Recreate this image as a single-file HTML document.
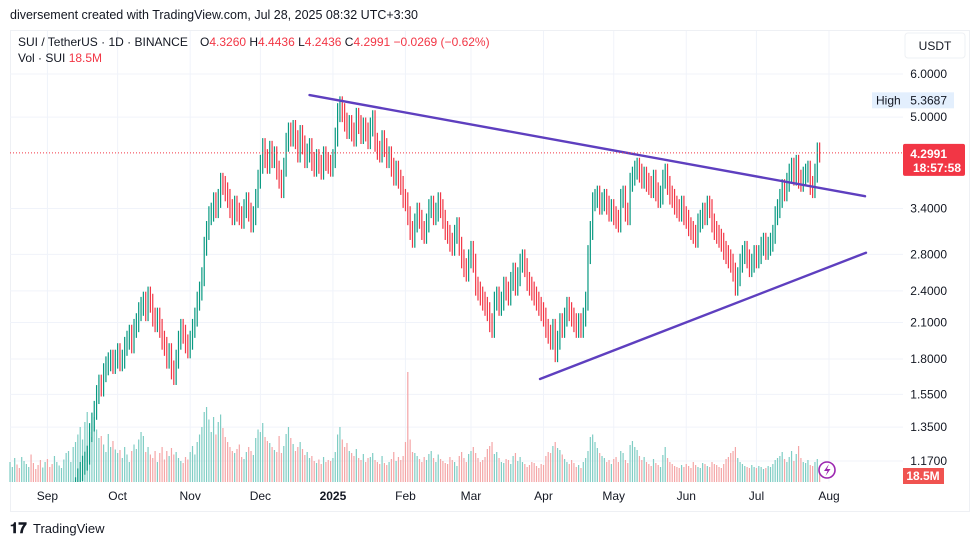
<!DOCTYPE html>
<html><head><meta charset="utf-8">
<style>
body{margin:0;background:#fff;font-family:"Liberation Sans",sans-serif;}
#wrap{position:relative;width:980px;height:546px;overflow:hidden;background:#fff}
svg text{font-family:"Liberation Sans",sans-serif}
</style></head>
<body>
<div id="wrap">
<svg id="chart" width="980" height="546" viewBox="0 0 980 546">
  <text x="10" y="19" font-size="12.5" fill="#131722">diversement created with TradingView.com, Jul 28, 2025 08:32 UTC+3:30</text>
  <rect x="10.5" y="30.5" width="959" height="481" fill="none" stroke="#eef0f4"/>
  <g id="grid"></g>
  <g id="vol"></g>
  <g id="bars"></g>
  <g id="lines"></g>
  <g id="axis"></g>
  <g id="taxis"></g>
  <g>
    <text x="18" y="46" font-size="12" fill="#131722">SUI / TetherUS · 1D · BINANCE</text>
    <text x="200" y="46" font-size="12" fill="#131722">O<tspan fill="#f23645">4.3260</tspan> H<tspan fill="#f23645">4.4436</tspan> L<tspan fill="#f23645">4.2436</tspan> C<tspan fill="#f23645">4.2991</tspan> <tspan fill="#f23645">−0.0269 (−0.62%)</tspan></text>
    <text x="18" y="62" font-size="12" fill="#131722">Vol · SUI <tspan fill="#f23645">18.5M</tspan></text>
  </g>
  <rect x="905" y="33" width="60" height="25" rx="3" fill="#fff" stroke="#eef0f4"/>
  <text x="935" y="50" font-size="12" text-anchor="middle" fill="#131722">USDT</text>
  <g>
    <circle cx="827" cy="470" r="8" fill="#fff" stroke="#9c27b0" stroke-width="1.6"/>
    <path d="M829 464 L824 471 L827.5 471 L825.5 476 L830.5 469 L827 469 Z" fill="#9c27b0"/>
  </g>
  <text x="10" y="533" font-size="15" font-weight="bold" fill="#131722">𝟏𝟕</text>
  <text x="33" y="533" font-size="13" fill="#131722">TradingView</text>
</svg>
</div>
<script>
const monthLabels=["Sep","Oct","Nov","Dec","2025","Feb","Mar","Apr","May","Jun","Jul","Aug"];
const monthDays=[16,46,77,107,138,169,197,228,258,289,319,350];
const priceTicks=[6.0,5.0,3.4,2.8,2.4,2.1,1.8,1.55,1.35,1.17];
const closes=[
0.85,0.87,0.90,0.88,0.86,0.92,0.95,0.98,1.02,1.00,0.96,0.93,0.92,0.88,0.90,0.91,
0.87,0.85,0.82,0.84,0.86,0.88,0.90,0.92,0.95,0.98,1.00,1.03,1.05,1.09,1.12,1.15,1.17,1.20,1.32,1.38,1.45,1.55,1.62,1.60,1.70,1.75,1.78,1.80,1.76,1.80,
1.85,1.78,1.80,1.90,1.95,2.00,1.92,2.05,2.10,2.20,2.25,2.30,2.20,2.35,2.28,2.15,2.10,2.15,2.05,1.95,1.90,1.80,1.85,1.72,1.68,1.80,1.95,2.05,2.00,1.92,1.88,
1.95,2.05,2.15,2.30,2.40,2.55,2.90,3.10,3.30,3.35,3.50,3.40,3.55,3.80,3.75,3.65,3.55,3.40,3.30,3.45,3.35,3.30,3.25,3.40,3.50,3.35,3.20,3.30,3.55,3.85,
4.10,4.40,4.20,4.10,4.35,4.20,4.25,4.00,3.85,3.70,4.05,4.50,4.70,4.60,4.75,4.55,4.30,4.65,4.45,4.20,4.30,4.40,4.15,4.05,4.20,4.10,4.00,4.25,4.15,4.10,4.05,
4.20,4.60,5.10,5.25,5.10,4.90,4.75,4.85,4.70,4.60,5.00,4.85,4.65,4.80,4.70,4.55,4.80,4.95,4.50,4.35,4.30,4.55,4.40,4.20,4.25,4.05,3.90,4.00,3.85,3.75,3.55,
3.50,3.30,3.10,3.00,3.20,3.35,3.25,3.10,3.05,3.20,3.40,3.45,3.30,3.35,3.50,3.40,3.25,3.10,3.05,2.95,2.90,3.05,3.15,2.90,2.75,2.65,2.60,2.75,
2.85,2.70,2.45,2.40,2.35,2.30,2.25,2.20,2.10,2.05,2.30,2.35,2.25,2.30,2.45,2.40,2.35,2.50,2.60,2.45,2.55,2.70,2.75,2.65,2.50,2.45,2.40,2.35,2.30,2.25,2.20,
2.15,2.05,2.00,1.95,2.05,1.85,1.95,2.10,2.05,2.15,2.25,2.20,2.15,2.10,2.05,2.10,2.05,2.15,2.30,2.80,3.10,3.50,3.55,3.60,3.45,3.50,3.55,3.45,3.35,3.40,
3.30,3.25,3.20,3.55,3.60,3.35,3.30,3.80,3.90,4.00,4.05,3.95,3.85,3.90,3.80,3.75,3.70,3.85,3.65,3.55,3.60,3.85,3.95,3.75,3.60,3.55,3.45,3.40,3.35,3.45,3.30,
3.25,3.15,3.10,3.05,3.00,3.20,3.25,3.35,3.30,3.45,3.40,3.20,3.10,3.05,3.00,2.95,2.85,2.80,2.75,2.70,2.60,2.45,2.55,2.70,2.80,2.85,2.75,2.65,2.70,2.80,
2.75,2.80,2.90,2.95,2.85,2.90,2.95,3.05,3.30,3.40,3.55,3.70,3.65,3.80,3.95,4.05,3.90,4.10,3.85,3.80,3.90,3.95,4.00,3.75,3.70,3.95,4.32,4.2991];
const volumes=[
40,30,48,35,28,50,42,36,30,55,38,26,34,44,29,40,
46,30,36,52,40,33,28,45,58,62,40,70,80,95,110,85,120,140,100,90,130,105,88,92,75,60,96,70,82,65,
58,64,48,70,55,40,62,75,66,85,100,92,60,70,55,48,62,40,58,70,45,62,52,68,55,60,48,42,38,50,45,
60,72,55,80,95,110,140,150,125,100,130,95,120,135,108,90,80,70,62,58,66,75,50,46,60,70,62,54,88,105,
100,118,90,82,78,70,64,60,92,58,72,96,110,88,76,62,70,80,66,54,60,48,52,42,38,45,36,50,40,44,42,
48,60,95,110,85,70,78,62,58,52,66,48,44,56,40,48,50,58,44,40,36,52,38,34,40,46,60,42,50,44,52,
80,220,85,60,58,52,46,40,50,44,56,62,48,40,55,46,42,38,36,50,44,40,32,52,60,48,40,56,
62,70,58,48,40,44,50,66,72,80,56,60,48,40,38,46,44,36,52,58,42,50,40,36,30,34,40,38,32,28,36,
34,52,60,58,72,80,68,64,55,46,40,36,44,38,30,34,28,40,48,62,90,95,80,68,58,52,48,40,44,36,
46,50,40,62,58,44,38,74,82,70,64,52,44,50,40,36,32,46,38,34,30,54,70,48,40,36,32,30,28,34,30,
36,32,28,40,34,30,28,38,36,32,30,40,36,34,30,28,36,46,50,58,62,70,48,40,36,32,30,28,34,30,
28,32,30,26,28,32,30,36,44,48,52,60,46,40,50,62,42,56,72,48,40,38,44,34,32,40,46,18.5];
const trendUpper=[[128,5.49],[365.4,3.58]];
const trendLower=[[226.5,1.654],[365.8,2.82]];

const NS="http://www.w3.org/2000/svg";
const PLOT_L=10,PLOT_R=903,PLOT_T=31,VOL_BASE=482;
const x=i=>10+i*2.34;
const y=p=>74+(Math.log(6)-Math.log(p))*236.7;
const vy=v=>VOL_BASE-v*0.5;
function mk(tag,attrs,parent){const e=document.createElementNS(NS,tag);for(const k in attrs)e.setAttribute(k,attrs[k]);parent.appendChild(e);return e;}
const grid=document.getElementById('grid'),axis=document.getElementById('axis'),taxis=document.getElementById('taxis');
priceTicks.forEach(p=>{
  const gl=mk('line',{x1:PLOT_L,x2:PLOT_R,y1:y(p),y2:y(p),stroke:'#f0f3fa'},grid);
  
  
  const t=mk('text',{x:947,y:y(p)+4,'font-size':12,'text-anchor':'end',fill:'#131722'},axis);
  t.textContent=p.toFixed(4);
  
  
});
monthLabels.forEach((m,k)=>{
  const xx=x(monthDays[k]);
  const gl=mk('line',{x1:xx,x2:xx,y1:PLOT_T,y2:VOL_BASE,stroke:'#f0f3fa'},grid);
  
  
  const t=mk('text',{x:xx,y:500,'font-size':12,'text-anchor':'middle',fill:'#131722','font-weight':m==='2025'?'bold':'normal'},taxis);
  t.textContent=m;
  
  
});
const vg=document.getElementById('vol');
volumes.forEach((v,i)=>{
  const up=i===0||closes[i]>=closes[i-1];
  const r=mk('rect',{x:x(i)-0.6,y:vy(v),width:1.2,height:VOL_BASE-vy(v),fill:up?'#7fcdc4':'#f4a5a6'},vg);
  
  
});
const bg=document.getElementById('bars');
const clip=mk('clipPath',{id:'pc'},document.getElementById('chart'));
mk('rect',{x:PLOT_L,y:PLOT_T,width:PLOT_R-PLOT_L,height:VOL_BASE-PLOT_T},clip);
bg.setAttribute('clip-path','url(#pc)');
closes.forEach((c,i)=>{
  const o=i===0?c:closes[i-1];
  const up=c>=o;
  const hi=Math.max(o,c)*1.04,lo=Math.min(o,c)*0.96;
  const col=up?'#089981':'#f23645';
  const l=mk('line',{x1:x(i),x2:x(i),y1:y(hi),y2:y(lo),stroke:col,'stroke-width':1.2},bg);
  
  
});
const last=closes[closes.length-1];
const dl=mk('line',{x1:PLOT_L,x2:PLOT_R,y1:y(last),y2:y(last),stroke:'#f23645','stroke-dasharray':'1 2','stroke-width':1},axis);


const lb=mk('rect',{x:903,y:y(last)-9,width:62,height:32,rx:2,fill:'#f23645'},axis);


const lt=mk('text',{x:947,y:y(last)+5,'font-size':12,'text-anchor':'end',fill:'#fff','font-weight':'bold'},axis);
lt.textContent=last.toFixed(4);


const ct=mk('text',{x:961,y:y(last)+19,'font-size':12,'text-anchor':'end',fill:'#fff','font-weight':'bold'},axis);
ct.textContent='18:57:58';


const hv=5.3687;
const hb=mk('rect',{x:872,y:y(hv)-8,width:82,height:16,fill:'#e3effd'},axis);


const ht=mk('text',{x:876,y:y(hv)+4,'font-size':12,fill:'#131722'},axis);
ht.textContent='High';


const hvt=mk('text',{x:947,y:y(hv)+4,'font-size':12,'text-anchor':'end',fill:'#131722'},axis);
hvt.textContent=hv.toFixed(4);


const vb=mk('rect',{x:903,y:468,width:41,height:16,fill:'#f05350'},axis);


const vt=mk('text',{x:923,y:480,'font-size':12,'text-anchor':'middle',fill:'#fff','font-weight':'bold'},axis);
vt.textContent=volumes[volumes.length-1]+'M';


const lg=document.getElementById('lines');
[[trendUpper,'upper-trendline'],[trendLower,'lower-trendline']].forEach(([t,n])=>{
  const l=mk('line',{x1:x(t[0][0]),y1:y(t[0][1]),x2:x(t[1][0]),y2:y(t[1][1]),stroke:'#5e3fbf','stroke-width':2.4,'stroke-linecap':'round'},lg);
  
  
});
</script>
</body></html>
